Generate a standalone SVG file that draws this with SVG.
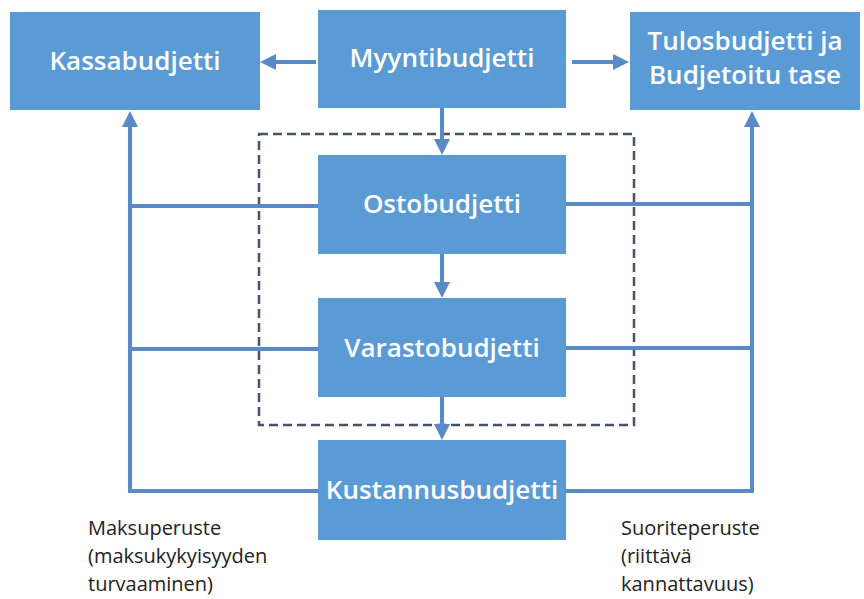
<svg xmlns="http://www.w3.org/2000/svg" width="864" height="599" viewBox="0 0 864 599">
<style>
.box{fill:#5b9bd5}
.bt{fill:#fff;font-family:"Open Sans","Liberation Sans",sans-serif;font-size:26px;font-weight:600;text-anchor:middle}
.ln{stroke:#5a8ac6;stroke-width:4;fill:none}
.lab{fill:#222;font-family:"Open Sans","Liberation Sans",sans-serif;font-size:20px}
</style>
<defs>
<marker id="ah" markerWidth="4" markerHeight="4" refX="2" refY="2" orient="auto" markerUnits="strokeWidth">
<path d="M0,0 L4,2 L0,4 Z" fill="#5a8ac6"/>
</marker>
</defs>
<g id="connectors">
<rect x="259" y="134" width="375" height="291" fill="none" stroke="#44546a" stroke-width="2.5" stroke-dasharray="9,5"/>
<line class="ln" x1="316" y1="62" x2="268" y2="62" marker-end="url(#ah)"/>
<line class="ln" x1="572" y1="62" x2="621" y2="62" marker-end="url(#ah)"/>
<line class="ln" x1="442" y1="108" x2="442" y2="147" marker-end="url(#ah)"/>
<line class="ln" x1="442" y1="254" x2="442" y2="290" marker-end="url(#ah)"/>
<line class="ln" x1="442" y1="397" x2="442" y2="432" marker-end="url(#ah)"/>
<polyline class="ln" points="318,491 130,491 130,119" marker-end="url(#ah)"/>
<line class="ln" x1="130" y1="206" x2="318" y2="206"/>
<line class="ln" x1="130" y1="349" x2="318" y2="349"/>
<polyline class="ln" points="566,491 752,491 752,119" marker-end="url(#ah)"/>
<line class="ln" x1="566" y1="204" x2="752" y2="204"/>
<line class="ln" x1="566" y1="348" x2="752" y2="348"/>
</g>
<g id="kassa"><rect class="box" x="10" y="12" width="250" height="98"/><text class="bt" x="135" y="70">Kassabudjetti</text></g>
<g id="myynti"><rect class="box" x="318" y="10" width="248" height="98"/><text class="bt" x="442" y="67">Myyntibudjetti</text></g>
<g id="tulos"><rect class="box" x="630" y="12" width="230" height="98"/><text class="bt" x="745" y="50">Tulosbudjetti ja</text><text class="bt" x="745" y="84">Budjetoitu tase</text></g>
<g id="osto"><rect class="box" x="318" y="155" width="248" height="99"/><text class="bt" x="442" y="213">Ostobudjetti</text></g>
<g id="varasto"><rect class="box" x="318" y="298" width="248" height="99"/><text class="bt" x="442" y="357">Varastobudjetti</text></g>
<g id="kustannus"><rect class="box" x="318" y="440" width="248" height="100"/><text class="bt" x="442" y="499">Kustannusbudjetti</text></g>
<g id="maksu"><text class="lab" x="88" y="535">Maksuperuste</text><text class="lab" x="88" y="563">(maksukykyisyyden</text><text class="lab" x="88" y="591">turvaaminen)</text></g>
<g id="suorite"><text class="lab" x="621" y="535">Suoriteperuste</text><text class="lab" x="621" y="563">(riittävä</text><text class="lab" x="621" y="591">kannattavuus)</text></g>
</svg>
